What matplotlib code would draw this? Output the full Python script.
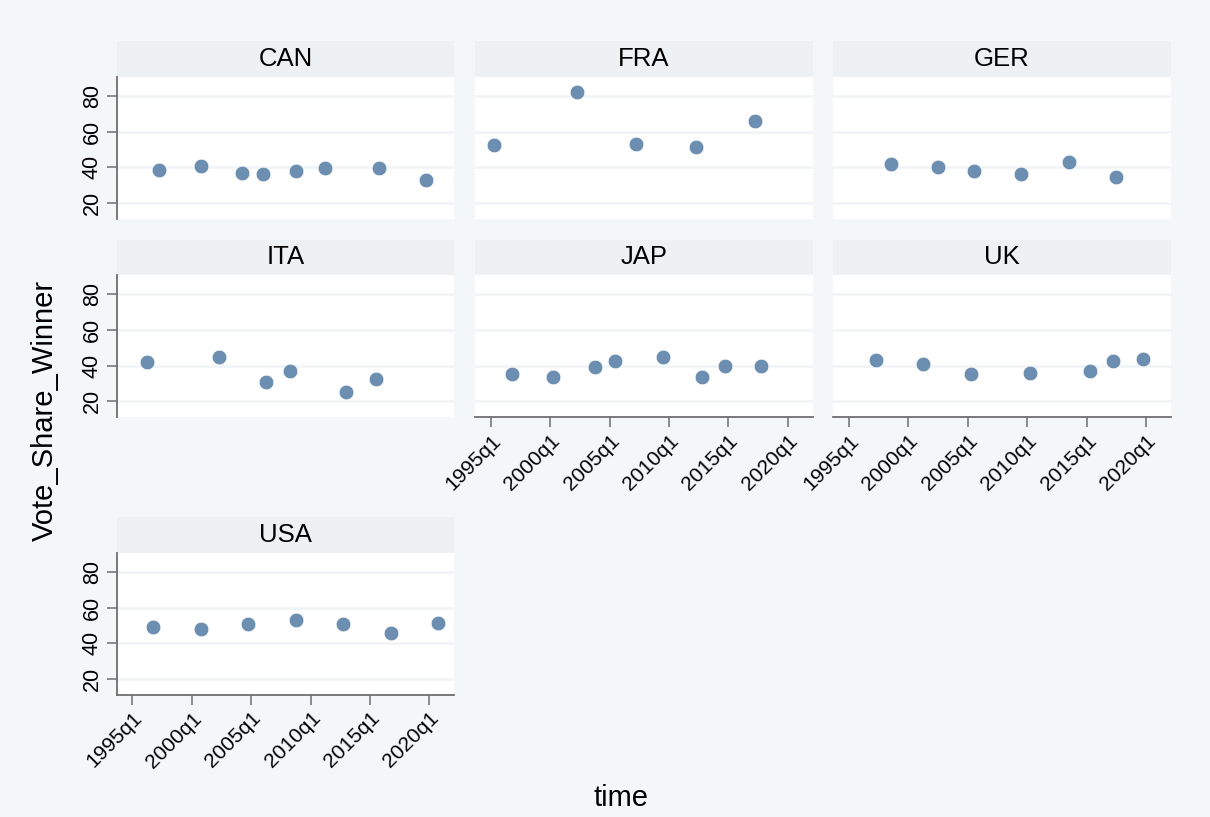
import matplotlib
matplotlib.use("Agg")
import matplotlib.pyplot as plt

# panels in the order they are drawn (row by row)
countries = ["CAN", "FRA", "GER", "ITA", "JAP", "UK", "USA"]

can_time = ["1997q2", "2000q4", "2004q2", "2006q1", "2008q4", "2011q2", "2015q4", "2019q4"]
can_vote = [38.5, 40.9, 36.7, 36.3, 37.7, 39.6, 39.5, 33.1]

fra_time = ["1995q2", "2002q2", "2007q2", "2012q2", "2017q2"]
fra_vote = [52.6, 82.2, 53.1, 51.6, 66.1]

ger_time = ["1998q3", "2002q3", "2005q3", "2009q3", "2013q3", "2017q3"]
ger_vote = [42.1, 40.1, 37.8, 36.3, 43.3, 34.8]

ita_time = ["1996q2", "2002q2", "2006q2", "2008q2", "2013q1", "2015q3"]
ita_vote = [42.0, 45.0, 31.0, 37.1, 25.0, 32.3]

jap_time = ["1996q4", "2000q2", "2003q4", "2005q3", "2009q3", "2012q4", "2014q4", "2017q4"]
jap_vote = [35.3, 33.8, 39.0, 42.6, 44.6, 33.6, 39.8, 39.9]

uk_time = ["1997q2", "2001q2", "2005q2", "2010q2", "2015q2", "2017q2", "2019q4"]
uk_vote = [43.2, 40.7, 35.2, 36.1, 36.8, 42.4, 43.6]

usa_time = ["1996q4", "2000q4", "2004q4", "2008q4", "2012q4", "2016q4", "2020q4"]
usa_vote = [49.2, 47.9, 50.7, 52.9, 51.1, 46.1, 51.3]

times = [can_time, fra_time, ger_time, ita_time, jap_time, uk_time, usa_time]
votes = [can_vote, fra_vote, ger_vote, ita_vote, jap_vote, uk_vote, usa_vote]

xtick_labels = ["1995q1", "2000q1", "2005q1", "2010q1", "2015q1", "2020q1"]
ytick_values = [20, 40, 60, 80]


def qnum(s):
    # "1997q2" -> 1997.25
    y, q = s.split("q")
    return int(y) + (int(q) - 1) / 4.0


plt.rcParams["font.family"] = ["Liberation Sans", "DejaVu Sans"]

W, H = 1210, 817
bg = "#f4f7f8"
head_col = "#edf1f4"
grid_col = "#f0f4f6"
dot_col = "#6c8eb0"
axis_col = "#6e6e6e"

fig = plt.figure(figsize=(W / 100, H / 100), dpi=100, facecolor=bg)


def px_axes(l, t, r, b):
    return fig.add_axes([l / W, 1 - b / H, (r - l) / W, (b - t) / H])


col_left = [116.7, 475.0, 833.3]
row_top = [76.7, 275.0, 552.7]
pw, ph, hh = 337.5, 142.0, 35.5

xticks = [qnum(t) for t in xtick_labels]

for i, name in enumerate(countries):
    r, c = divmod(i, 3)
    l, t = col_left[c], row_top[r]

    hax = px_axes(l, t - hh, l + pw, t)
    hax.set_facecolor(head_col)
    hax.set_xticks([])
    hax.set_yticks([])
    for s in hax.spines.values():
        s.set_visible(False)
    hax.text(0.5, 0.5, name, ha="center", va="center", fontsize=18.5, transform=hax.transAxes)

    ax = px_axes(l, t, l + pw, t + ph)
    ax.set_facecolor("white")
    ax.set_xlim(1993.67, 2022.09)
    ax.set_ylim(11.2, 90.9)
    for y in ytick_values:
        ax.axhline(y, color=grid_col, lw=1.8, zorder=1)
    ax.scatter([qnum(q) for q in times[i]], votes[i], s=110, color=dot_col,
               edgecolors="white", linewidths=0.4, zorder=3)

    for s in ["top", "right"]:
        ax.spines[s].set_visible(False)

    # y axis only on the first column
    if c == 0:
        ax.spines["left"].set_color(axis_col)
        ax.spines["left"].set_linewidth(1.3)
        ax.set_yticks(ytick_values)
        ax.set_yticklabels([str(v) for v in ytick_values], rotation=90, va="center")
        ax.tick_params(axis="y", length=7, width=1.1, color=axis_col, labelsize=15.5, pad=3)
    else:
        ax.spines["left"].set_visible(False)
        ax.set_yticks([])

    # x axis only on the bottom panel of each column
    if name in ["JAP", "UK", "USA"]:
        ax.spines["bottom"].set_color(axis_col)
        ax.spines["bottom"].set_linewidth(1.3)
        ax.set_xticks(xticks)
        ax.set_xticklabels(xtick_labels, rotation=45, ha="right", rotation_mode="anchor")
        ax.tick_params(axis="x", length=7, width=1.1, color=axis_col, labelsize=15, pad=3)
    else:
        ax.spines["bottom"].set_visible(False)
        ax.set_xticks([])

fig.text(45 / W, 1 - 410 / H, "Vote_Share_Winner", rotation=90, ha="center", va="center", fontsize=21)
fig.text(621 / W, 1 - 798 / H, "time", ha="center", va="center", fontsize=21)

fig.savefig("out.png", dpi=100, facecolor=bg)
